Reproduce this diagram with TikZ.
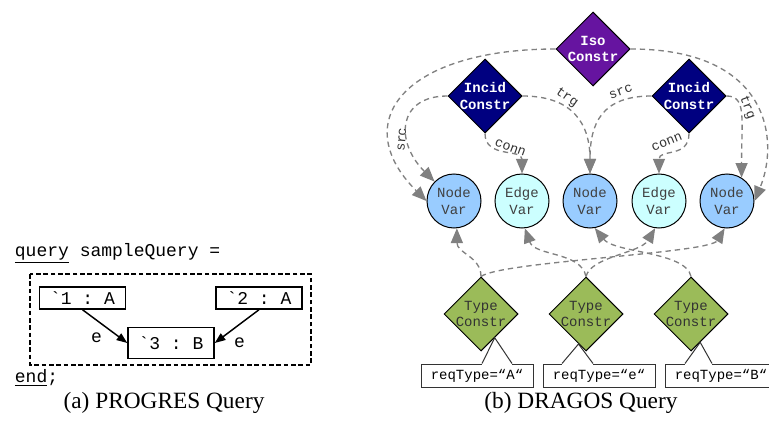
\documentclass[tikz,border=0pt]{standalone}
\usepackage{fontspec}
\setmainfont{Liberation Serif}
\setmonofont{Liberation Mono}
\usetikzlibrary{arrows.meta,shapes.geometric}

\definecolor{isoPurple}{RGB}{102,20,160}
\definecolor{incidNavy}{RGB}{0,0,128}
\definecolor{typeGreen}{RGB}{155,187,89}
\definecolor{nodeBlue}{RGB}{153,204,255}
\definecolor{edgeCyan}{RGB}{204,255,255}
\definecolor{linkGray}{RGB}{128,128,128}

\tikzset{every picture/.style={line width=0.75pt}}
\tikzset{
  qfont/.style={font=\ttfamily\fontsize{13.5}{16}\selectfont},
  dfont/.style={font=\ttfamily\fontsize{10.5}{12.4}\selectfont},
  qbox/.style={draw, fill=white, line width=1.1pt, minimum width=64.5pt, minimum height=16.5pt, inner sep=2pt, qfont},
  qedge/.style={line width=1.1pt, -{Triangle[length=8pt,width=6pt]}},
  qframe/.style={line width=1.1pt, dash pattern=on 3.5pt off 2pt},
  varcircle/.style={circle, draw, text=black!75, minimum size=40.5pt, inner sep=0pt, align=center, dfont},
  nodevar/.style={varcircle, fill=nodeBlue},
  edgevar/.style={varcircle, fill=edgeCyan},
  constr/.style={diamond, draw, minimum width=55.5pt, minimum height=55.5pt, inner sep=-2pt, align=center, dfont},
  isoconstr/.style={constr, fill=isoPurple, text=white, font=\ttfamily\bfseries\fontsize{10.5}{12.4}\selectfont},
  incidconstr/.style={constr, fill=incidNavy, text=white, font=\ttfamily\bfseries\fontsize{10.5}{12.4}\selectfont},
  typeconstr/.style={constr, fill=typeGreen, text=black!80},
  reqbox/.style={draw=black!80, minimum width=84pt, minimum height=17.25pt, inner sep=1pt, dfont},
  reqtip/.style={draw=black!80},
  dlink/.style={linkGray, dash pattern=on 4pt off 3pt, line width=1pt, -{Triangle[length=11pt,width=9pt]}},
  dlabel/.style={text=black!80, inner sep=1pt, font=\ttfamily\fontsize{10}{12}\selectfont},
  caption/.style={font=\fontsize{17.5}{20}\selectfont}
}

\begin{document}
\begin{tikzpicture}[x=0.75pt,y=0.75pt,yscale=-1,xscale=1]
\path[use as bounding box] (0,0) rectangle (769,421);

%%% (a) PROGRES query
% Text Node
\node[anchor=west, qfont] (qhead) at (10,253) {\underline{query} sampleQuery =};
%Shape: Rectangle, dashed frame
\draw[qframe] (30,274) rectangle (311,365);
% query nodes
\node[qbox] (q1) at (82.5,298) {`1 : A};
\node[qbox] (q2) at (259,298) {`2 : A};
\node[qbox, minimum height=23pt] (q3) at (171,343) {`3 : B};
% query edges
\draw[qedge] (q1.south) -- (q3.west) node[pos=0.55, below left, qfont] {e};
\draw[qedge] (q2.south) -- (q3.east) node[pos=0.68, below right, qfont] {e};
% Text Node
\node[anchor=west, qfont] (qend) at (10,378) {\underline{end};};
\node[caption] (capa) at (164,403) {(a) PROGRES Query};

%%% (b) DRAGOS query
% constraints
\node[isoconstr] (iso) at (593,49) {Iso\\Constr};
\node[incidconstr] (inc1) at (485,96) {Incid\\Constr};
\node[incidconstr] (inc2) at (689,96) {Incid\\Constr};
% variables
\node[nodevar] (nv1) at (454,201) {Node\\Var};
\node[edgevar] (ev1) at (522,201) {Edge\\Var};
\node[nodevar] (nv2) at (590,201) {Node\\Var};
\node[edgevar] (ev2) at (659,201) {Edge\\Var};
\node[nodevar] (nv3) at (727,201) {Node\\Var};
% type constraints
\node[typeconstr] (tc1) at (481,314) {Type\\Constr};
\node[typeconstr] (tc2) at (586,314) {Type\\Constr};
\node[typeconstr] (tc3) at (691,314) {Type\\Constr};

% iso links
\draw[dlink] (iso.west) .. controls +(-150,0) and +(-80,-80) .. (nv1.west);
\draw[dlink] (iso.east) .. controls +(140,0) and +(25,-60) .. (nv3.east);
% first incidence
\draw[dlink] (inc1.west) .. controls +(-50,0) and +(-40,-40) .. (nv1.north west)
  node[dlabel, pos=0.65, xshift=-5pt, rotate=85] {src};
\draw[dlink] (inc1.south) .. controls +(0,25) and +(0,-25) .. (ev1.north)
  node[dlabel, pos=0.6, yshift=6pt, xshift=1pt, rotate=-20] {conn};
\draw[dlink] (inc1.east) .. controls +(50,0) and +(0,-50) .. (nv2.north)
  node[dlabel, pos=0.37, yshift=7pt, xshift=1pt, rotate=-35] {trg};
% second incidence
\draw[dlink] (inc2.west) .. controls +(-50,0) and +(0,-50) .. (nv2.north)
  node[dlabel, pos=0.25, yshift=7pt, rotate=20] {src};
\draw[dlink] (inc2.south) .. controls +(0,25) and +(0,-25) .. (ev2.north)
  node[dlabel, pos=0.6, yshift=10pt, xshift=-2pt, rotate=22] {conn};
\draw[dlink] (inc2.east) .. controls +(20,0) and +(0,-60) .. (nv3.58)
  node[dlabel, pos=0.4, xshift=5pt, rotate=-70] {trg};

% type links
\draw[dlink] (tc1.north) .. controls +(0,-20) and +(0,25) .. (nv1.-84);
\draw[dlink] (tc1.north) .. controls +(20,-15) and +(-15,25) .. (nv3.-95);
\draw[dlink] (tc2.north) .. controls +(-5,-25) and +(10,28) .. (ev1.-84);
\draw[dlink] (tc2.north) .. controls +(5,-20) and +(-15,25) .. (ev2.-98);
\draw[dlink] (tc3.north) .. controls +(-5,-25) and +(20,25) .. (nv2.-80);

% required types
\node[reqbox] (req1) at (477,375.5) {reqType=“A“};
\node[reqbox] (req2) at (599,375.5) {reqType=“e“};
\node[reqbox] (req3) at (721,375.5) {reqType=“B“};
\draw[white, line width=1.5pt] ([xshift=3.75pt]req1.north) -- ([xshift=26.25pt]req1.north);
\draw[white, line width=1.5pt] ([xshift=-27.75pt]req2.north) -- ([xshift=-4.5pt]req2.north);
\draw[white, line width=1.5pt] ([xshift=-27pt]req3.north) -- ([xshift=-6.75pt]req3.north);
\draw[reqtip] ([xshift=3.75pt]req1.north) -- (tc1.-60) -- ([xshift=26.25pt]req1.north);
\draw[reqtip] ([xshift=-27.75pt]req2.north) -- (tc2.-104) -- ([xshift=-4.5pt]req2.north);
\draw[reqtip] ([xshift=-27pt]req3.north) -- (tc3.-72) -- ([xshift=-6.75pt]req3.north);

\node[caption] (capb) at (581,403) {(b) DRAGOS Query};
\end{tikzpicture}
\end{document}
